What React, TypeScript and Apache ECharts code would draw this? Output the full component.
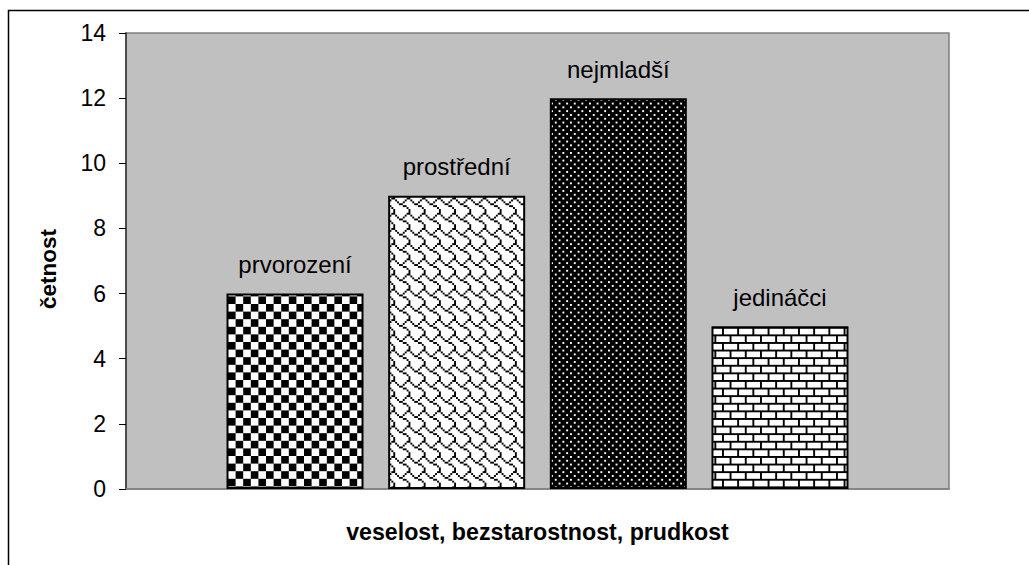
import React, { useEffect, useRef } from 'react';
import * as echarts from 'echarts';

const categories = ['veselost, bezstarostnost, prudkost'];
const seriesNames = ['prvorození', 'prostřední', 'nejmladší', 'jedináčci'];
const seriesValues = [6, 9, 12, 5];
const yMin = 0;
const yMax = 14;
const yInterval = 2;

// 8x8 hatch bitmaps (1 = black foreground)
const checkerBits = [0x0f, 0x0f, 0x0f, 0x0f, 0xf0, 0xf0, 0xf0, 0xf0];
const shingleBits = [0x03, 0x84, 0x48, 0x30, 0x0c, 0x02, 0x01, 0x01];
const dottedBits = [0x77, 0xff, 0xdd, 0xff, 0x77, 0xff, 0xdd, 0xff];
const brickBits = [0xff, 0x80, 0x80, 0x80, 0xff, 0x08, 0x08, 0x08];
const patternBits = [checkerBits, shingleBits, dottedBits, brickBits];

const CELL = 4;
const PAT_SCALE = 1.9 / CELL;

function makePattern(bits: number[]) {
  const size = 8 * CELL;
  const c = document.createElement('canvas');
  c.width = size;
  c.height = size;
  const ctx = c.getContext('2d')!;
  ctx.fillStyle = '#ffffff';
  ctx.fillRect(0, 0, size, size);
  ctx.fillStyle = '#000000';
  for (let r = 0; r < 8; r++) {
    for (let col = 0; col < 8; col++) {
      if (bits[r] & (0x80 >> col)) ctx.fillRect(col * CELL, r * CELL, CELL, CELL);
    }
  }
  return {
    image: c,
    repeat: 'repeat',
    imageWidth: size,
    imageHeight: size,
    scaleX: PAT_SCALE,
    scaleY: PAT_SCALE,
  } as any;
}

const FONT = '"Liberation Sans", Arial, sans-serif';

export default function App() {
  const ref = useRef<HTMLDivElement>(null);
  useEffect(() => {
    const chart = echarts.init(ref.current!, null, { renderer: 'svg' });
    const series = seriesNames.map((name, i) => ({
      type: 'bar',
      name,
      data: [seriesValues[i]],
      barWidth: 137,
      barGap: '18%',
      itemStyle: {
        color: makePattern(patternBits[i]),
        borderColor: '#000',
        borderWidth: 2,
      },
      label: {
        show: true,
        position: 'top',
        distance: 17,
        formatter: '{a}',
        color: '#000',
        fontSize: 24,
        fontFamily: FONT,
      },
    }));
    chart.setOption({
      animation: false,
      backgroundColor: '#fff',
      grid: {
        left: 126,
        right: 80,
        top: 33,
        bottom: 76,
        show: true,
        backgroundColor: '#C0C0C0',
        borderColor: '#808080',
        borderWidth: 1.5,
      },
      graphic: [
        {
          type: 'rect',
          shape: { x: 8.5, y: 10.5, width: 1200, height: 1000 },
          style: { fill: 'none', stroke: '#000', lineWidth: 1.5 },
          silent: true,
        },
      ],
      xAxis: {
        type: 'category',
        data: categories,
        axisLine: { show: true, lineStyle: { color: '#808080', width: 1.5 } },
        axisTick: { show: false },
        axisLabel: {
          margin: 31,
          color: '#000',
          fontWeight: 'bold',
          fontSize: 23.2,
          fontFamily: FONT,
        },
      },
      yAxis: {
        type: 'value',
        min: yMin,
        max: yMax,
        interval: yInterval,
        name: 'četnost',
        nameLocation: 'middle',
        nameGap: 66,
        nameRotate: 90,
        nameTextStyle: {
          color: '#000',
          fontWeight: 'bold',
          fontSize: 22.5,
          fontFamily: FONT,
          padding: [0, 16, 0, 0],
        },
        axisLine: { show: true, lineStyle: { color: '#333', width: 1.5 } },
        axisTick: { show: true, length: 7, lineStyle: { color: '#000' } },
        axisLabel: { margin: 20, color: '#000', fontSize: 23, fontFamily: FONT },
        splitLine: { show: false },
      },
      series,
    });
    return () => chart.dispose();
  }, []);
  return (
    <div
      ref={ref}
      style={{ position: 'absolute', left: 0, top: 0, width: 1029, height: 565 }}
    />
  );
}
